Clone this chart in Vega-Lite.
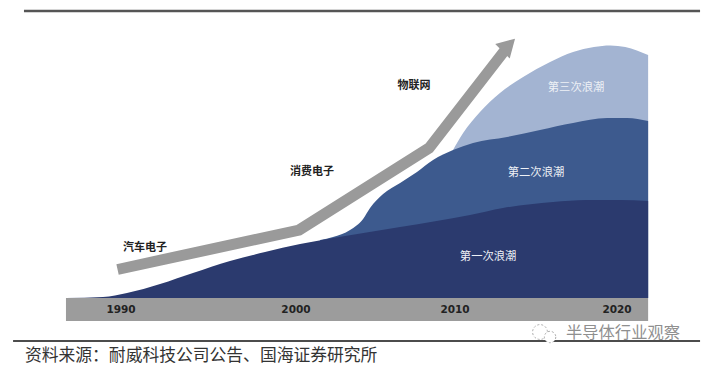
{"$schema":"https://vega.github.io/schema/vega-lite/v6.json","width":706,"height":370,"autosize":{"type":"fit","contains":"padding"},"padding":0,"background":"white","view":{"stroke":null},
"config":{"axis":{"disable":true}},
"encoding":{"x":{"field":"year","type":"quantitative","scale":{"domain":[1982.68,2025.38],"nice":false,"zero":false},"axis":null},"y":{"field":"v","type":"quantitative","scale":{"domain":[-72,298],"nice":false,"zero":false},"axis":null}},
"layer":[
{"data":{"values":[{"year":1984.13,"year2":2025.02,"v":287}]},"mark":{"type":"rule","stroke":"#555555","strokeWidth":2.5},"encoding":{"x2":{"field":"year2"}}},
{"data":{"values":[{"year":1983.47,"year2":2025.02,"v":-43}]},"mark":{"type":"rule","stroke":"#111111","strokeWidth":1.5},"encoding":{"x2":{"field":"year2"}}},
{"data":{"values":[{"year":1986.67,"year2":2021.88,"v":0,"v2":-23}]},"mark":{"type":"rect","fill":"#9c9c9c"},"encoding":{"x2":{"field":"year2"},"y2":{"field":"v2"}}},
{"data":{"values":[{"year":2010.08,"v":148},{"year":2010.69,"v":165},{"year":2011.71,"v":186},{"year":2012.92,"v":205},{"year":2014.32,"v":221},{"year":2015.95,"v":236},{"year":2017.34,"v":246},{"year":2018.6,"v":251},{"year":2019.6,"v":252.5},{"year":2020.5,"v":251},{"year":2021.2,"v":247.5},{"year":2021.88,"v":243}]},"mark":{"type":"area","fill":"#a3b4d2","interpolate":"monotone"},"encoding":{"y2":{"datum":0}}},
{"data":{"values":[{"year":2002.04,"v":58},{"year":2002.82,"v":61},{"year":2003.85,"v":68},{"year":2004.64,"v":79},{"year":2005.06,"v":90},{"year":2005.85,"v":104},{"year":2006.88,"v":115},{"year":2007.9,"v":126},{"year":2008.87,"v":138},{"year":2010.08,"v":148},{"year":2011.29,"v":155},{"year":2013.35,"v":161},{"year":2015.34,"v":168},{"year":2017.34,"v":175},{"year":2019.4,"v":180},{"year":2020.61,"v":180},{"year":2021.88,"v":177}]},"mark":{"type":"area","fill":"#3d5a8e","interpolate":"monotone"},"encoding":{"y2":{"datum":0}}},
{"data":{"values":[{"year":1986.67,"v":0},{"year":1988.91,"v":1},{"year":1990.36,"v":5},{"year":1992.36,"v":14},{"year":1994.35,"v":25},{"year":1996.59,"v":37},{"year":1998.71,"v":46},{"year":2000.83,"v":54},{"year":2002.82,"v":60},{"year":2006.88,"v":71},{"year":2011.11,"v":83},{"year":2013.1,"v":90},{"year":2016.13,"v":96},{"year":2018.13,"v":98},{"year":2020.18,"v":98},{"year":2021.88,"v":97}]},"mark":{"type":"area","fill":"#2b3a6e","interpolate":"monotone"},"encoding":{"y2":{"datum":0}}},
{"data":{"values":[{"year":1989.79,"v":28.5},{"year":2000.77,"v":68},{"year":2008.63,"v":150},{"year":2013.23,"v":248}]},"mark":{"type":"line","stroke":"#9a9a9a","strokeWidth":11,"strokeJoin":"miter"}},
{"data":{"values":[{"year":2013.45,"v":253}]},"mark":{"type":"point","shape":"triangle-up","filled":true,"fill":"#9a9a9a","opacity":1,"size":420,"angle":45}},
{"data":{"values":[{"year":1990,"v":-12,"t":"1990"},{"year":2000.58,"v":-12,"t":"2000"},{"year":2010.2,"v":-12,"t":"2010"},{"year":2020,"v":-12,"t":"2020"}]},"mark":{"type":"text","font":"DejaVu Sans","fontWeight":"bold","fontSize":10.5,"fill":"#222222"},"encoding":{"text":{"field":"t"}}},
{"data":{"values":[{"year":1991.45,"v":50,"t":"汽车电子"},{"year":2001.55,"v":126,"t":"消费电子"},{"year":2007.72,"v":212,"t":"物联网"}]},"mark":{"type":"text","font":"Noto Sans CJK SC","fontWeight":"bold","fontSize":11,"fill":"#222222"},"encoding":{"text":{"field":"t"}}},
{"data":{"values":[{"year":2017.52,"v":210,"t":"第三次浪潮"},{"year":2015.1,"v":125,"t":"第二次浪潮"},{"year":2012.2,"v":41,"t":"第一次浪潮"}]},"mark":{"type":"text","font":"Noto Sans CJK SC","fontSize":11.3,"fill":"#eef1f6"},"encoding":{"text":{"field":"t"}}},
{"data":{"values":[{"year":1984.19,"v":-58,"t":"资料来源：耐威科技公司公告、国海证券研究所"}]},"mark":{"type":"text","align":"left","font":"Noto Sans CJK SC","fontSize":16.8,"fill":"#333333"},"encoding":{"text":{"field":"t"}}},
{"data":{"values":[{"year":2015.34,"v":-34,"s":220},{"year":2015.95,"v":-39,"s":130}]},"mark":{"type":"point","shape":"circle","filled":false,"stroke":"#aaaaaa","fill":"white","fillOpacity":1,"strokeDash":[2,2],"strokeWidth":1},"encoding":{"size":{"field":"s","type":"quantitative","scale":null,"legend":null}}},
{"data":{"values":[{"year":2020.36,"v":-35,"t":"半导体行业观察"}]},"mark":{"type":"text","font":"Noto Sans CJK SC","fontSize":16.3,"fill":"#8f8f8f"},"encoding":{"text":{"field":"t"}}}
]}
